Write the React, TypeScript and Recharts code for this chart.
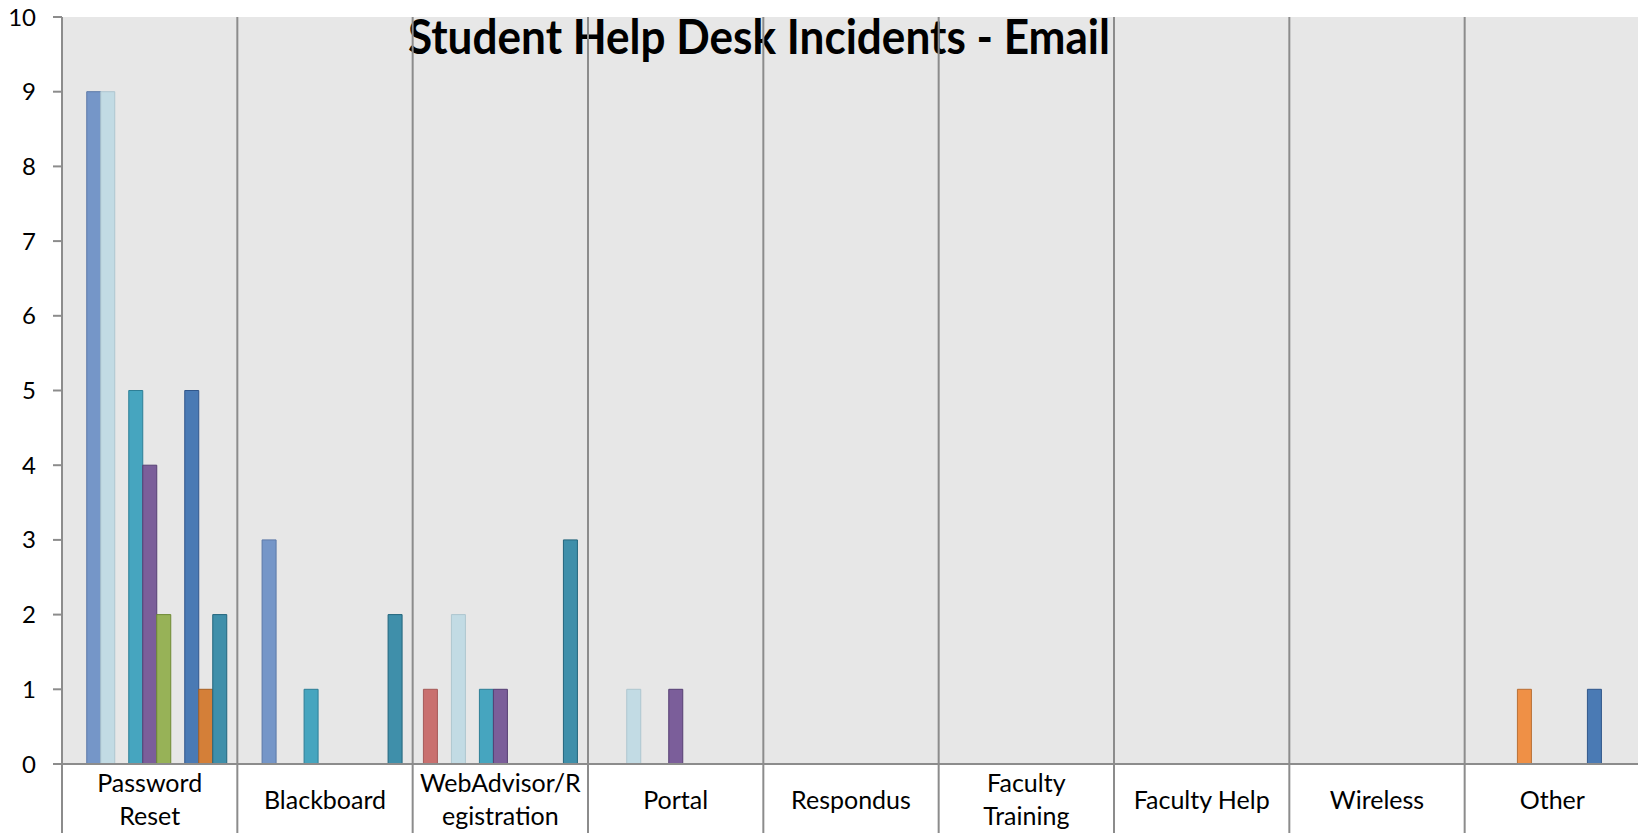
import { Bar, BarChart, CartesianGrid, XAxis, YAxis } from "recharts";

const categories = [
  "Password Reset",
  "Blackboard",
  "WebAdvisor/Registration",
  "Portal",
  "Respondus",
  "Faculty Training",
  "Faculty Help",
  "Wireless",
  "Other",
];

// how each category label wraps under the axis
const tickLines = [
  ["Password", "Reset"],
  ["Blackboard"],
  ["WebAdvisor/R", "egistration"],
  ["Portal"],
  ["Respondus"],
  ["Faculty", "Training"],
  ["Faculty Help"],
  ["Wireless"],
  ["Other"],
];

const yTicks = [0, 1, 2, 3, 4, 5, 6, 7, 8, 9, 10];

const series1 = [0, 0, 1, 0, 0, 0, 0, 0, 0];
const series2 = [9, 3, 0, 0, 0, 0, 0, 0, 0];
const series3 = [9, 0, 2, 1, 0, 0, 0, 0, 0];
const series4 = [0, 0, 0, 0, 0, 0, 0, 0, 1];
const series5 = [5, 1, 1, 0, 0, 0, 0, 0, 0];
const series6 = [4, 0, 1, 1, 0, 0, 0, 0, 0];
const series7 = [2, 0, 0, 0, 0, 0, 0, 0, 0];
const series8 = [0, 0, 0, 0, 0, 0, 0, 0, 0];
const series9 = [5, 0, 0, 0, 0, 0, 0, 0, 1];
const series10 = [1, 0, 0, 0, 0, 0, 0, 0, 0];
const series11 = [2, 2, 3, 0, 0, 0, 0, 0, 0];

const seriesValues = [
  series1, series2, series3, series4, series5, series6,
  series7, series8, series9, series10, series11,
];

const seriesStyles = [
  { fill: "#C9706F", stroke: "#A55A58" },
  { fill: "#7596C8", stroke: "#5C79A8" },
  { fill: "#C2DBE4", stroke: "#AEC6CF" },
  { fill: "#EF9046", stroke: "#B86F35" },
  { fill: "#46A5BF", stroke: "#2E7F96" },
  { fill: "#7B5E9A", stroke: "#563F73" },
  { fill: "#97B257", stroke: "#6F8A35" },
  { fill: "#A9BEDC", stroke: "#8AA0C0" },
  { fill: "#4A7AB4", stroke: "#30568A" },
  { fill: "#D47F38", stroke: "#A55F24" },
  { fill: "#3F8FAA", stroke: "#22657C" },
];

const data = categories.map((name, i) => {
  const row: Record<string, string | number> = { name };
  seriesValues.forEach((vals, s) => {
    row[`s${s + 1}`] = vals[i];
  });
  return row;
});

const FONT = "Lato, 'Open Sans', sans-serif";
const PLOT_TOP = 17;
const CHART_H = 833;
const GRID = "#8C8C8C";

function CategoryTick(props: any) {
  const { x, y, payload, index } = props;
  const half = payload?.offset ?? 87.65;
  const lines = tickLines[index ?? payload?.index ?? 0] ?? [String(payload?.value)];
  const left = x - half;
  return (
    <g>
      <line x1={left} x2={left} y1={PLOT_TOP} y2={CHART_H} stroke={GRID} strokeWidth={2} />
      {lines.length === 1 ? (
        <text x={x} y={y + 45} textAnchor="middle" fontSize={25} fontFamily={FONT} fill="#000">
          {lines[0]}
        </text>
      ) : (
        lines.map((ln: string, k: number) => (
          <text
            key={k}
            x={x}
            y={y + 28 + k * 33}
            textAnchor="middle"
            fontSize={25}
            fontFamily={FONT}
            fill="#000"
          >
            {ln}
          </text>
        ))
      )}
    </g>
  );
}

export default function App() {
  return (
    <div style={{ width: 1638, height: CHART_H, overflow: "hidden", background: "#fff" }}>
      <style>{`body{margin:0}`}</style>
      <BarChart
        width={1640}
        height={CHART_H}
        data={data}
        margin={{ top: PLOT_TOP, right: 0, bottom: 0, left: 0 }}
        barCategoryGap={10.75}
        barGap={0}
      >
        <CartesianGrid fill="#E7E7E7" horizontal={false} vertical={false} />
        <XAxis
          dataKey="name"
          height={69}
          interval={0}
          tickLine={false}
          tickSize={0}
          tickMargin={0}
          axisLine={{ stroke: GRID, strokeWidth: 2 }}
          tick={<CategoryTick />}
        />
        <YAxis
          width={62}
          domain={[0, 10]}
          ticks={yTicks}
          interval={0}
          tickSize={9}
          tickMargin={17}
          axisLine={{ stroke: GRID, strokeWidth: 2 }}
          tickLine={{ stroke: GRID, strokeWidth: 2 }}
          tick={{ fill: "#000", fontSize: 24, fontFamily: FONT }}
        />
        {seriesValues.map((_, s) => (
          <Bar
            key={s}
            dataKey={`s${s + 1}`}
            name={`Series ${s + 1}`}
            fill={seriesStyles[s].fill}
            stroke={seriesStyles[s].stroke}
            strokeWidth={1}
            isAnimationActive={false}
          />
        ))}
        <text
          x={408}
          y={54}
          textLength={702}
          lengthAdjust="spacingAndGlyphs"
          fontSize={48}
          fontWeight="bold"
          fontFamily={FONT}
          fill="#000"
        >
          Student Help Desk Incidents - Email
        </text>
      </BarChart>
    </div>
  );
}
